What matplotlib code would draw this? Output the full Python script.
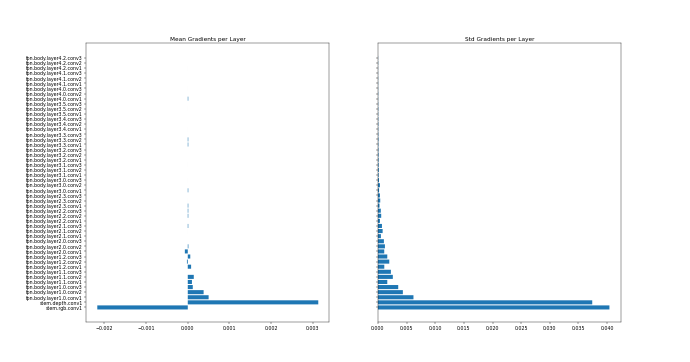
import numpy as np
import matplotlib
matplotlib.use("Agg")
import matplotlib.pyplot as plt

# layer names, bottom to top (stem first, then ResNet-50 blocks 3/4/6/3)
blocks = [(1, 3), (2, 4), (3, 6), (4, 3)]
layer_names = ["stem.rgb.conv1", "stem.depth.conv1"]
for layer, n in blocks:
    for b in range(n):
        for c in range(1, 4):
            layer_names.append("fpn.body.layer%d.%d.conv%d" % (layer, b, c))

# mean gradient per layer
mean_grads = [
    -0.00217, 0.00313,
    0.00050, 0.00038, 0.00012,
    0.00010, 0.000144, 0.00000005,
    0.00008, -0.00002, 0.00006,
    -0.00007, 0.000015, 0.00000005,
    0.00000003, -0.00000004, 0.000012,
    0.00000005, 0.000012, 0.000012,
    0.000012, -0.00000004, 0.00000005,
    0.000012, 0.00000003, -0.00000004,
    0.00000003, 0.00000005, -0.00000004,
    0.00000003, 0.00000005, 0.00000003,
    0.000012, 0.000012, 0.00000003,
    -0.00000004, 0.00000003, 0.00000005,
    0.00000003, -0.00000004, 0.00000003,
    0.000012, 0.00000003, -0.00000004,
    0.00000003, 0.00000005, 0.00000003,
    -0.00000004, 0.00000003, 0.00000003,
]

# std of gradient per layer
std_grads = [
    0.0404, 0.0374,
    0.0062, 0.00435, 0.00354,
    0.00163, 0.0026, 0.00226,
    0.00111, 0.00198, 0.00163,
    0.0011, 0.00122, 0.00104,
    0.00052, 0.00082, 0.00070,
    0.00035, 0.00057, 0.00050,
    0.00028, 0.00040, 0.00035,
    0.00020, 0.00035, 0.00018,
    0.00012, 0.00015, 0.00012,
    0.00011, 0.00011, 0.00009,
    0.00008, 0.00009, 0.00007,
    0.00006, 0.00007, 0.00006,
    0.00005, 0.00006, 0.00005,
    0.00004, 0.00005, 0.00004,
    0.00004, 0.00004, 0.00003,
    0.00003, 0.00004, 0.00003,
]

y = np.arange(len(layer_names))

fig, (ax1, ax2) = plt.subplots(1, 2, figsize=(20, 10.5), dpi=34.5)

# snap=False so very thin bars still show up as faint marks
ax1.barh(y, mean_grads, snap=False)
ax1.set_yticks(y)
ax1.set_yticklabels(layer_names)
ax1.set_title("Mean Gradients per Layer")

ax2.barh(y, std_grads, snap=False)
ax2.set_yticks(y)
ax2.set_yticklabels([])
ax2.set_title("Std Gradients per Layer")

plt.savefig("out.png", dpi=34.5)
